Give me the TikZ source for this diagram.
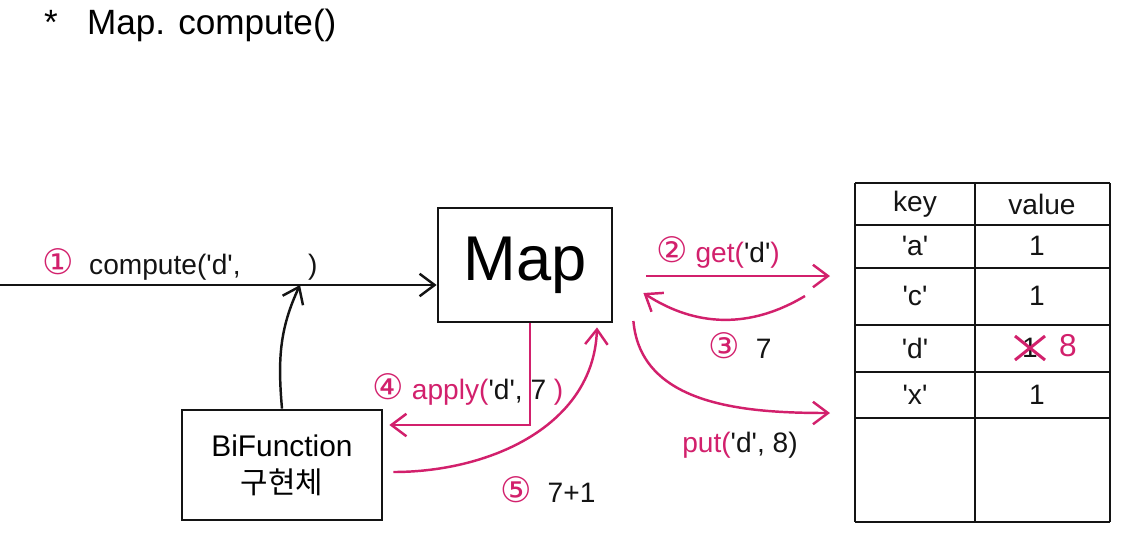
\documentclass[tikz,border=0pt]{standalone}
\usepackage{fontspec}
\setmainfont{Liberation Sans}
\newfontfamily\krfont{Noto Sans CJK KR}
\newfontfamily\symfont{DejaVu Sans}
\usepackage{xcolor}
\definecolor{penred}{RGB}{210,32,108}
\definecolor{penblack}{RGB}{20,20,20}
\usepackage{tikz}
\usetikzlibrary{arrows.meta,calc,fit}
\newcommand{\cnum}[1]{{\symfont\fontsize{20}{20}\selectfont\color{penred}#1}}
\newcommand{\tick}{\textquotesingle}
\newcommand{\red}[1]{\textcolor{penred}{#1}}

\begin{document}
\begin{tikzpicture}[x=0.02cm, y=-0.02cm,
  font=\fontsize{16}{19}\selectfont,
  box/.style={draw=penblack, line width=1.6pt, align=center, inner sep=4pt},
  grid/.style={penblack, line width=1.5pt},
  cell/.style={font=\fontsize{16}{19}\selectfont, penblack},
  arrow/.style={-{Straight Barb[length=3mm,width=4.5mm]}, line width=1.4pt, penblack},
  marrow/.style={-{Straight Barb[length=3mm,width=4.5mm]}, line width=1.4pt, penred},
  lbl/.style={font=\fontsize{16}{19}\selectfont, inner sep=1pt, penblack}]

  \useasboundingbox (0,0) rectangle (1129,552);

  % --- title ---
  \node[anchor=west, font=\fontsize{20}{24}\selectfont] (title) at (38,25) {*\ \ \ Map. compute()};

  % --- boxes ---
  \node[box, minimum width=3.48cm, minimum height=2.28cm, font=\fontsize{36}{40}\selectfont] (map) at (525,265) {Map};
  \node[box, minimum width=4cm, minimum height=2.2cm, font=\fontsize{17}{21}\selectfont] (bifn) at (282,465)
    {BiFunction\\{\krfont 구현체}};

  % --- key/value table ---
  \foreach \y in {183,225,268,325,372,418,522}
    \draw[grid] (855,\y) -- (1110,\y);
  \foreach \x in {855,975,1110}
    \draw[grid] (\x,183) -- (\x,522);
  \node[fit={(855,183)(1110,522)}, inner sep=0pt] (tbl) {};
  \node[cell] (khead) at (915,204) {key};
  \node[cell] (vhead) at (1042,204) {value};
  \foreach \k/\y in {a/246,c/296,d/348,x/395}
    \node[cell] (k\k) at (915,\y) {\tick\k\tick};
  \node[cell] (va) at (1037,246) {1};
  \node[cell] (vc) at (1037,296) {1};
  \node[cell] (vd) at (1030,348) {1};
  \node[cell] (vx) at (1037,395) {1};
  \draw[penred, line width=1.7pt] ($(vd)+(-15,-12)$) -- ($(vd)+(15,12)$);
  \draw[penred, line width=1.7pt] ($(vd)+(-15,12)$) -- ($(vd)+(15,-12)$);
  \node[cell, text=penred, font=\fontsize{18}{20}\selectfont] (vnew) at (1068,346) {8};

  % --- connector end points ---
  \coordinate (in1)    at (0,285);
  \coordinate (argslot) at (300,285);
  \coordinate (getend) at (830,276);
  \coordinate (putend) at (830,413);

  % --- flows ---
  \draw[arrow] (in1) -- (in1 -| map.west);
  \node[lbl, anchor=west] (computelbl) at (40,264) {\cnum{①}\ \ compute(\tick d\tick,\hspace{2.4em})};
  \draw[arrow] (bifn.north) to[out=95, in=-115] (argslot);

  \draw[marrow] ($(map.east)+(33,11)$) -- (getend);
  \node[lbl] (getlbl) at (718,252) {\cnum{②}\ \red{get(}\tick d\tick\red{)}};

  \draw[marrow] ($(getend)+(-25,20)$) to[bend left=32] ($(map.east)+(30,28)$);
  \node[lbl] (retlbl) at (740,346) {\cnum{③}\ \ 7};

  \draw[marrow] ($(map.south)+(5,0)$) |- ($(bifn.east)+(6,-40)$);
  \node[lbl] (applylbl) at (468,389) {\cnum{④}\ \red{apply(}\tick d\tick, 7 \red{)}};

  \draw[marrow] ($(bifn.east)+(10,7)$) to[out=0, in=-92] ($(map.south)+(72,4)$);
  \node[lbl] (pluslbl) at (548,490) {\cnum{⑤}\ \ 7+1};

  \draw[marrow] ($(map.east)+(20,56)$) to[out=-85, in=180] (putend);
  \node[lbl] (putlbl) at (740,445) {\red{put(}\tick d\tick, 8)};
\end{tikzpicture}
\end{document}
